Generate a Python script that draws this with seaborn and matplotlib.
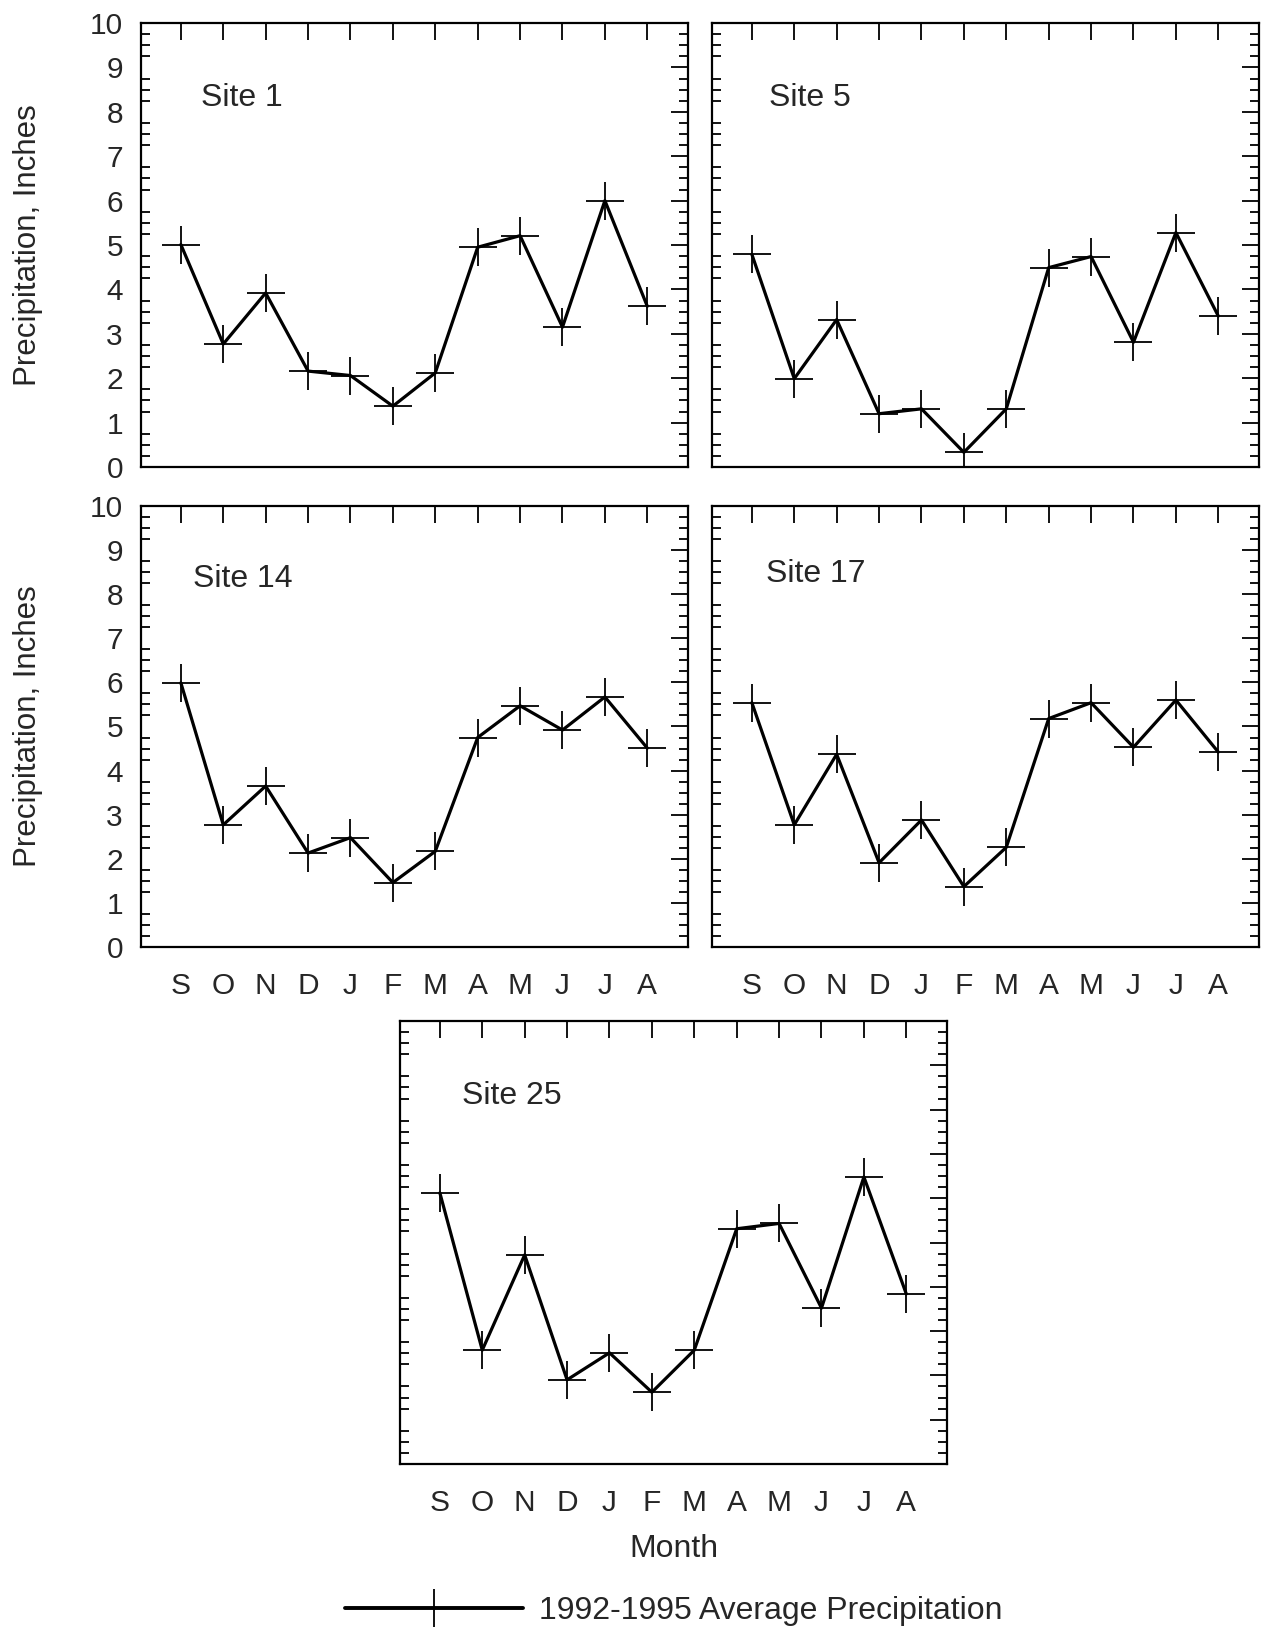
import matplotlib
matplotlib.use("Agg")
import matplotlib.pyplot as plt
import seaborn as sns
import numpy as np
import pandas as pd
from matplotlib.lines import Line2D
from matplotlib.ticker import MultipleLocator

months = ["S", "O", "N", "D", "J", "F", "M", "A", "M", "J", "J", "A"]
site1 = [5.01, 2.77, 3.92, 2.16, 2.06, 1.37, 2.12, 4.95, 5.21, 3.15, 6.00, 3.62]
site5 = [4.79, 1.99, 3.32, 1.20, 1.31, 0.33, 1.31, 4.49, 4.74, 2.81, 5.28, 3.40]
site14 = [5.99, 2.77, 3.65, 2.13, 2.48, 1.46, 2.17, 4.75, 5.47, 4.92, 5.67, 4.51]
site17 = [5.54, 2.77, 4.37, 1.91, 2.88, 1.37, 2.26, 5.18, 5.54, 4.53, 5.60, 4.42]
site25 = [6.12, 2.57, 4.72, 1.90, 2.51, 1.62, 2.57, 5.31, 5.43, 3.52, 6.48, 3.84]
site_names = ["Site 1", "Site 5", "Site 14", "Site 17", "Site 25"]
legend_label = "1992-1995 Average Precipitation"

sns.set_style("white")
plt.rcParams["font.family"] = ["Liberation Sans", "DejaVu Sans"]

W, H = 1264, 1629
fig = plt.figure(figsize=(W / 100, H / 100), dpi=100)

def rect(x0, y0, x1, y1):
    return [x0 / W, 1 - y1 / H, (x1 - x0) / W, (y1 - y0) / H]

boxes = [
    rect(141, 23, 688, 467),
    rect(712, 23, 1259, 467),
    rect(141, 506, 688, 947),
    rect(712, 506, 1259, 947),
    rect(400, 1021, 947, 1464),
]
series = [site1, site5, site14, site17, site25]
text_pos = [(0.11, 0.83), (0.105, 0.83), (0.095, 0.835), (0.099, 0.845), (0.114, 0.83)]
ylabels_on = [True, False, True, False, False]
xlabels_on = [False, False, True, True, True]

x_idx = np.arange(len(months))

for i in range(5):
    ax = fig.add_axes(boxes[i])
    df = pd.DataFrame({"x": x_idx, "y": series[i]})
    sns.lineplot(data=df, x="x", y="y", ax=ax, color="black", linewidth=2.3,
                 marker="+", markersize=28, markeredgewidth=1.3,
                 markeredgecolor="black")
    ax.set_xlim(-0.94, 11.96)
    ax.set_ylim(0, 10)
    ax.set_xticks(x_idx)
    ax.yaxis.set_major_locator(MultipleLocator(1))
    ax.yaxis.set_minor_locator(MultipleLocator(0.25))
    ax.tick_params(axis="both", which="major", direction="in", length=12,
                   width=1.3, top=True, right=True, color="black")
    ax.tick_params(axis="y", which="minor", direction="in", length=6.5,
                   width=1.3, left=True, right=True, color="black")
    ax.tick_params(axis="y", which="major", labelsize=21.5, pad=13)
    ax.tick_params(axis="x", which="major", labelsize=21.5, pad=18)
    if xlabels_on[i]:
        ax.set_xticklabels(months)
    else:
        ax.set_xticklabels([])
    if ylabels_on[i]:
        ax.set_ylabel("Precipitation, Inches", fontsize=22.5)
        ax.yaxis.set_label_coords(-0.18, 0.5)
    else:
        ax.set_yticklabels([])
        ax.set_ylabel("")
    ax.set_xlabel("")
    for sp in ax.spines.values():
        sp.set_linewidth(1.6)
        sp.set_color("black")
    ax.text(text_pos[i][0], text_pos[i][1], site_names[i], transform=ax.transAxes,
            fontsize=23, va="center", ha="left")
    if i == 4:
        ax.set_xlabel("Month", fontsize=23, labelpad=12)

handle = Line2D([], [], color="black", linewidth=2.8, marker="+", markersize=28,
                markeredgewidth=1.3)
fig.legend(handles=[handle], labels=[legend_label], loc="center",
           bbox_to_anchor=(0.533, 0.011), frameon=False, fontsize=23,
           handlelength=5.55, handletextpad=0.5, borderpad=0)

fig.savefig("out.png", dpi=100)
